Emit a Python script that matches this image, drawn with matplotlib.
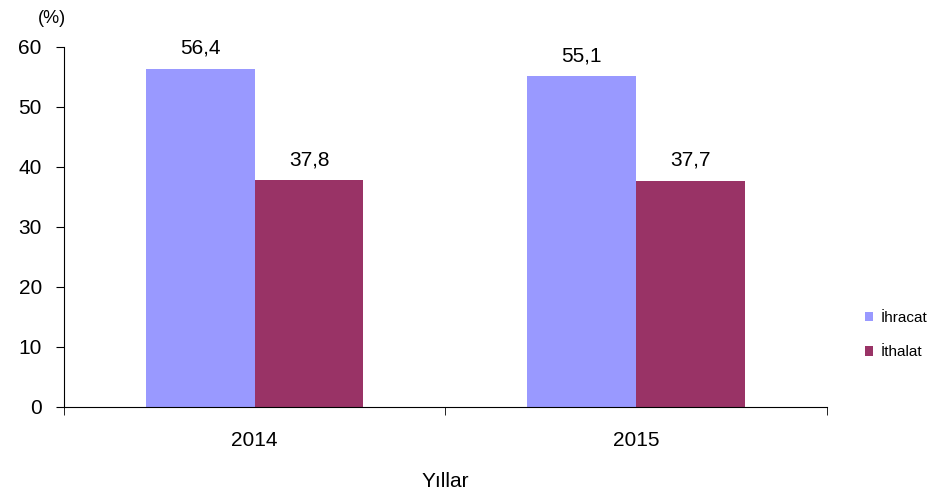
import numpy as np
import matplotlib.pyplot as plt

plt.rcParams['font.family'] = ['Liberation Sans', 'DejaVu Sans']

years = ['2014', '2015']
ihracat = [56.4, 55.1]
ithalat = [37.8, 37.7]
labels = ['İhracat', 'İthalat']
colors = ['#9999FF', '#993366']

fig = plt.figure(figsize=(9.44, 4.96), dpi=100)
ax = fig.add_axes([0.0678, 0.1795, 0.808, 0.7258])

x = np.arange(len(years))
w = 0.285
b1 = ax.bar(x - w / 2, ihracat, w, color=colors[0], label=labels[0])
b2 = ax.bar(x + w / 2, ithalat, w, color=colors[1], label=labels[1])

for bars in (b1, b2):
    for r in bars:
        ax.annotate(f'{r.get_height():.1f}'.replace('.', ','),
                    (r.get_x() + r.get_width() / 2, r.get_height()),
                    xytext=(0, 8), textcoords='offset points',
                    ha='center', va='bottom', fontsize=15)

ax.set_xlim(-0.5, 1.5)
ax.set_ylim(0, 60)
ax.set_yticks(range(0, 61, 10))
ax.set_xticks(x)
ax.set_xticklabels(years)
ax.set_xticks([-0.5, 0.5, 1.5], minor=True)
ax.tick_params(axis='x', which='major', length=0, labelsize=15, pad=17)
ax.tick_params(axis='x', which='minor', length=6, direction='out')
ax.tick_params(axis='y', length=6, direction='out', labelsize=15, pad=10)
for s in ('top', 'right'):
    ax.spines[s].set_visible(False)
ax.set_xlabel('Yıllar', fontsize=15, labelpad=16)
ax.text(-0.034, 1.08, '(%)', transform=ax.transAxes, fontsize=13,
        ha='left', va='center')

ax.legend(loc='center left', bbox_to_anchor=(865 / 944, 1 - 335 / 496),
          bbox_transform=fig.transFigure, frameon=False,
          fontsize=11, handlelength=0.55, handleheight=0.55,
          handletextpad=0.5, labelspacing=1.35,
          borderpad=0, borderaxespad=0)

fig.savefig('out.png', dpi=100)
